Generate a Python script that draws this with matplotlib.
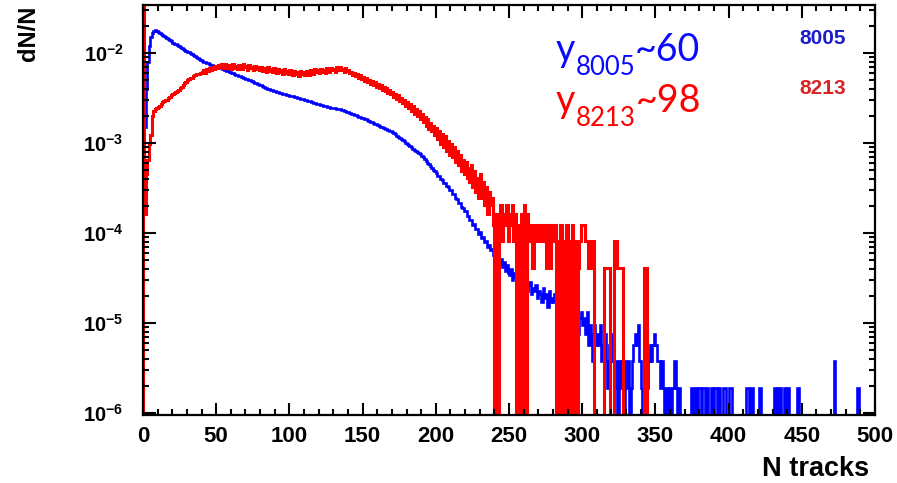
import numpy as np
import matplotlib
matplotlib.use("Agg")
import matplotlib.pyplot as plt
from matplotlib.ticker import MultipleLocator, FixedLocator, LogLocator, NullFormatter, FuncFormatter

plt.rcParams["font.family"] = "Liberation Sans"
plt.rcParams["mathtext.fontset"] = "custom"
plt.rcParams["mathtext.rm"] = "Liberation Sans:bold"
plt.rcParams["mathtext.it"] = "Liberation Sans:bold"
plt.rcParams["mathtext.bf"] = "Liberation Sans:bold"

# track multiplicity histograms, 1-track bins from 0 to 500
bin_edges = np.arange(0, 501)
n_events_8005 = 526000
n_events_8213 = 24400

# run 8005: counts per bin for bins 0..309
counts_8005_main = [
    160, 790, 2100, 4200, 6300, 7900, 8900, 9400, 9450, 9300,
    9050, 8820, 8610, 8390, 8160, 7960, 7740, 7520, 7310, 7110,
    6900, 6750, 6600, 6440, 6300, 6150, 6020, 5880, 5750, 5620,
    5500, 5370, 5250, 5130, 5010, 4890, 4770, 4640, 4530, 4420,
    4310, 4250, 4180, 4120, 4050, 3990, 3930, 3860, 3800, 3770,
    3740, 3690, 3630, 3580, 3520, 3470, 3420, 3360, 3310, 3260,
    3200, 3150, 3100, 3050, 3010, 2960, 2910, 2860, 2820, 2780,
    2750, 2700, 2660, 2620, 2570, 2530, 2480, 2440, 2400, 2350,
    2310, 2270, 2230, 2180, 2140, 2100, 2080, 2050, 2030, 2000,
    1980, 1960, 1940, 1910, 1890, 1870, 1850, 1840, 1820, 1800,
    1780, 1760, 1740, 1720, 1700, 1680, 1660, 1650, 1630, 1610,
    1600, 1580, 1560, 1550, 1530, 1510, 1490, 1470, 1450, 1440,
    1420, 1410, 1390, 1380, 1360, 1350, 1340, 1320, 1310, 1300,
    1290, 1280, 1270, 1260, 1250, 1240, 1220, 1210, 1190, 1170,
    1160, 1140, 1120, 1100, 1080, 1070, 1050, 1040, 1020, 1010,
    1000, 982, 965, 948, 931, 914, 898, 882, 866, 851,
    836, 821, 806, 792, 778, 764, 750, 737, 724, 711,
    698, 678, 658, 638, 620, 601, 584, 566, 550, 533,
    518, 502, 487, 473, 459, 445, 432, 419, 407, 395,
    383, 366, 350, 335, 320, 306, 293, 280, 268, 256,
    248, 230, 226, 210, 207, 192, 190, 175, 173, 160,
    158, 145, 142, 128, 127, 114, 115, 103, 101, 92,
    92, 82, 81, 73, 74, 65, 66, 58, 59, 52,
    54, 46, 48, 42, 43, 37, 39, 34, 35, 30,
    30, 26, 29, 24, 27, 22, 25, 20, 23, 19,
    18, 21, 16, 19, 17, 15, 18, 14, 17, 15,
    13, 16, 12, 14, 15, 11, 13, 12, 14, 10,
    12, 11, 9, 13, 10, 11, 8, 12, 9, 10,
    9, 11, 8, 10, 7, 9, 10, 6, 8, 9,
    7, 8, 6, 9, 5, 7, 8, 4, 6, 7,
    5, 6, 4, 7, 3, 5, 4, 2, 5, 3,
]

# run 8005: sparse high-multiplicity tail (bin, counts)
tail_bins_8005 = [
    310, 311, 312, 313, 314, 315, 316, 317, 318, 319, 320, 321, 322, 323,
    325, 326, 327, 329, 330, 331, 333, 334, 335, 336, 337, 338, 339, 340,
    342, 343, 344, 345, 346, 347, 348, 349, 350, 351, 352, 353, 354, 355,
    357, 359, 361, 362, 363, 364, 366, 374, 375, 377, 379, 380, 382, 383,
    385, 388, 390, 391, 393, 396, 397, 400, 401, 412, 413, 415, 416, 421,
    431, 433, 435, 438, 440, 447, 472, 488,
]
tail_counts_8005 = [
    4, 3, 5, 2, 3, 4, 2, 1, 3, 2, 4, 2, 1, 2,
    2, 1, 2, 2, 1, 2, 1, 2, 3, 4, 3, 5, 2, 1,
    2, 2, 1, 2, 3, 2, 3, 4, 3, 2, 2, 1, 2, 1,
    1, 1, 1, 1, 2, 1, 1, 1, 1, 1, 1, 1, 1, 1,
    1, 1, 1, 1, 1, 1, 1, 1, 1, 1, 1, 1, 1, 1,
    1, 1, 1, 1, 1, 1, 2, 1,
]

# run 8213: counts per bin for bins 0..349 (bin 0 overflows the frame)
counts_8213_main = [
    1500, 4, 11, 16, 24, 30, 49, 55, 58, 60,
    62, 64, 66, 70, 71, 74, 73, 78, 80, 83,
    86, 88, 91, 93, 96, 101, 104, 109, 113, 118,
    122, 125, 130, 128, 136, 139, 142, 145, 143, 148,
    150, 158, 147, 162, 155, 168, 157, 171, 163, 176,
    166, 181, 170, 184, 168, 179, 186, 167, 182, 171,
    165, 184, 169, 178, 161, 180, 172, 163, 183, 170,
    175, 160, 179, 166, 172, 157, 176, 163, 170, 158,
    172, 155, 168, 160, 151, 170, 156, 163, 150, 166,
    155, 148, 164, 150, 158, 143, 161, 149, 155, 142,
    157, 146, 139, 155, 143, 151, 138, 156, 145, 150,
    141, 156, 147, 139, 158, 149, 144, 161, 150, 157,
    146, 163, 152, 158, 147, 166, 155, 150, 168, 157,
    162, 151, 170, 158, 173, 160, 164, 152, 168, 155,
    158, 146, 152, 140, 149, 135, 143, 131, 140, 127,
    133, 120, 129, 116, 124, 112, 121, 108, 117, 104,
    110, 101, 108, 96, 104, 92, 100, 89, 95, 85,
    91, 80, 87, 76, 83, 71, 78, 68, 74, 63,
    70, 60, 66, 55, 63, 52, 59, 49, 56, 45,
    52, 42, 48, 38, 45, 35, 41, 33, 38, 30,
    36, 27, 33, 24, 31, 22, 29, 20, 26, 18,
    24, 17, 22, 15, 20, 14, 18, 12, 16, 11,
    15, 10, 13, 9, 14, 8, 12, 7, 10, 6,
    11, 6, 9, 5, 8, 4, 7, 5, 6, 3,
    0, 4, 0, 3, 5, 2, 4, 3, 5, 2,
    4, 3, 5, 2, 4, 0, 3, 0, 4, 0,
    5, 0, 4, 2, 3, 3, 1, 3, 2, 3,
    3, 2, 3, 3, 2, 1, 3, 2, 1, 3,
    2, 3, 0, 2, 0, 3, 0, 2, 0, 3,
    0, 2, 0, 3, 0, 2, 0, 1, 2, 3,
    3, 3, 2, 2, 1, 2, 1, 2, 0, 0,
    0, 0, 0, 0, 0, 1, 1, 1, 1, 0,
    0, 0, 2, 2, 1, 1, 1, 1, 0, 0,
    0, 0, 0, 0, 0, 0, 0, 0, 0, 0,
    0, 0, 1, 1, 0, 0, 0, 0, 0, 0,
]

counts_8005 = np.zeros(500)
counts_8005[:len(counts_8005_main)] = counts_8005_main
counts_8005[tail_bins_8005] = tail_counts_8005
counts_8213 = np.zeros(500)
counts_8213[:len(counts_8213_main)] = counts_8213_main

floor = 1e-9  # empty bins are drawn down to the bottom of the frame
dn_8005 = counts_8005 / n_events_8005
dn_8213 = counts_8213 / n_events_8213
dn_8005 = np.where(dn_8005 > 0, dn_8005, floor)
dn_8213 = np.where(dn_8213 > 0, dn_8213, floor)

W, H = 897, 483
fig = plt.figure(figsize=(W / 100, H / 100), dpi=100)
ax = fig.add_axes([143 / W, 1 - 415 / H, (875 - 143) / W, (415 - 5) / H])

ax.stairs(dn_8005, bin_edges, baseline=floor, color="#0000ff", lw=1.9)
ax.stairs(dn_8213, bin_edges, baseline=floor, color="#ff0000", lw=2.2)

ax.set_yscale("log")
ax.set_xlim(0, 500)
ax.set_ylim(9.5e-7, 0.0344)

ax.xaxis.set_major_locator(MultipleLocator(50))
ax.xaxis.set_minor_locator(MultipleLocator(10))
ax.yaxis.set_major_locator(FixedLocator([1e-6, 1e-5, 1e-4, 1e-3, 1e-2]))
ax.yaxis.set_minor_locator(LogLocator(base=10, subs=np.arange(2, 10)))
ax.yaxis.set_minor_formatter(NullFormatter())
ax.yaxis.set_major_formatter(FuncFormatter(lambda v, p: r"$10^{%d}$" % round(np.log10(v))))

ax.tick_params(which="both", direction="in", top=True, right=True, width=1.5, color="black")
ax.tick_params(which="major", length=9)
ax.tick_params(which="minor", length=4.5)
ax.tick_params(axis="x", labelsize=16, pad=8)
ax.tick_params(axis="y", labelsize=14.5, pad=14)
for lab in ax.get_xticklabels():
    lab.set_fontweight("bold")
for sp in ax.spines.values():
    sp.set_linewidth(1.6)

fig.text(28 / W, 1 - 6 / H, "dN/N", rotation=90, ha="center", va="top",
         fontsize=17, fontweight="bold")
fig.text(869 / W, 1 - 476 / H, "N tracks", ha="right", va="baseline",
         fontsize=19.5, fontweight="bold")

fig.text(823 / W, 1 - 39 / H, "8005", ha="center", va="center",
         fontsize=15, fontweight="bold", color="#1c1cc8")
fig.text(823 / W, 1 - 89 / H, "8213", ha="center", va="center",
         fontsize=15, fontweight="bold", color="#d82424")


def chained_text(x_px, base_px, pieces, color):
    # write pieces left to right, each starting where the previous one ends
    renderer = fig.canvas.get_renderer()
    x = x_px
    for s, size, drop in pieces:
        t = fig.text(x, H - base_px - drop, s, transform=None, fontsize=size,
                     family="Lato", color=color, va="baseline", ha="left")
        x = t.get_window_extent(renderer).x1


chained_text(556, 61, [("y", 27, 0), ("8005", 18.5, 14), ("~60", 27, 0)], "#0a0aff")
chained_text(556, 112, [("y", 27, 0), ("8213", 18.5, 14), ("~98", 27, 0)], "#ff0000")

fig.savefig("out.png", dpi=100)
